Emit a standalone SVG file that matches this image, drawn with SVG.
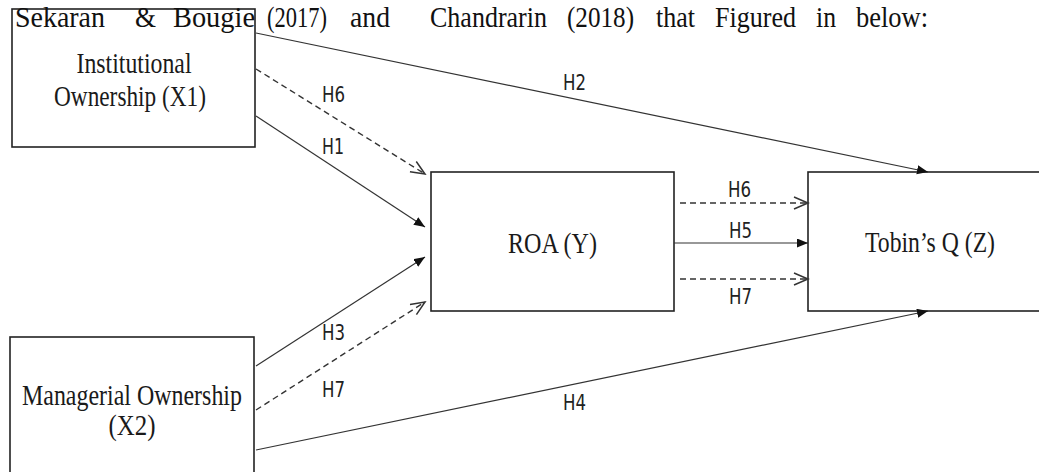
<svg xmlns="http://www.w3.org/2000/svg" width="1039" height="472" viewBox="0 0 1039 472">
<style>
.box{fill:#fff;stroke:#222;stroke-width:1.6}
.lbl{font-family:"Liberation Serif","Times New Roman",serif;font-size:29px;fill:#1a1a1a;text-anchor:middle}
.hd{font-family:"Liberation Serif","Times New Roman",serif;font-size:30px;fill:#111}
.h{font-family:"DejaVu Sans Condensed","DejaVu Sans","Liberation Sans",sans-serif;font-size:21px;fill:#222}
.ln{stroke:#333;stroke-width:1.2;fill:none}
.ds{stroke:#333;stroke-width:1.4;fill:none;stroke-dasharray:6 4}
</style>
<defs>
<marker id="fa" markerUnits="userSpaceOnUse" markerWidth="12" markerHeight="10" refX="11" refY="4.5" orient="auto">
<path d="M0,0 L11,4.5 L0,9 z" fill="#111"/>
</marker>
<marker id="oa" markerUnits="userSpaceOnUse" markerWidth="18" markerHeight="16" refX="15" refY="7" orient="auto">
<path d="M1,1 L15,7 L1,13" fill="none" stroke="#333" stroke-width="1.5"/>
</marker>
</defs>
<rect width="1039" height="472" fill="#fff"/>
<g id="x1">
<rect class="box" x="12" y="9" width="243" height="138"/>
<text class="lbl" x="134" y="73" textLength="115" lengthAdjust="spacingAndGlyphs">Institutional</text>
<text class="lbl" x="130" y="106" textLength="152" lengthAdjust="spacingAndGlyphs">Ownership (X1)</text>
</g>
<g id="x2">
<rect class="box" x="10" y="337" width="244" height="150"/>
<text class="lbl" x="132" y="405" textLength="220" lengthAdjust="spacingAndGlyphs">Managerial Ownership</text>
<text class="lbl" x="132" y="435" textLength="47" lengthAdjust="spacingAndGlyphs">(X2)</text>
</g>
<g id="roa">
<rect class="box" x="431" y="172" width="243" height="139"/>
<text class="lbl" x="552.5" y="253" textLength="89" lengthAdjust="spacingAndGlyphs">ROA (Y)</text>
</g>
<g id="tobin">
<rect class="box" x="808" y="172" width="240" height="139"/>
<text class="lbl" x="930" y="252" textLength="130" lengthAdjust="spacingAndGlyphs">Tobin’s Q (Z)</text>
</g>
<g id="heading">
<text class="hd" y="27"><tspan x="15" textLength="90" lengthAdjust="spacingAndGlyphs">Sekaran</tspan><tspan x="135" textLength="21" lengthAdjust="spacingAndGlyphs">&amp;</tspan><tspan x="173" textLength="82" lengthAdjust="spacingAndGlyphs">Bougie</tspan><tspan x="267" textLength="60" lengthAdjust="spacingAndGlyphs">(2017)</tspan><tspan x="350" textLength="40" lengthAdjust="spacingAndGlyphs">and</tspan><tspan x="430" textLength="117" lengthAdjust="spacingAndGlyphs">Chandrarin</tspan><tspan x="567" textLength="67" lengthAdjust="spacingAndGlyphs">(2018)</tspan><tspan x="656" textLength="39" lengthAdjust="spacingAndGlyphs">that</tspan><tspan x="715" textLength="81" lengthAdjust="spacingAndGlyphs">Figured</tspan><tspan x="816" textLength="20" lengthAdjust="spacingAndGlyphs">in</tspan><tspan x="856" textLength="72" lengthAdjust="spacingAndGlyphs">below:</tspan></text>
</g>
<g id="connectors">
<line class="ln" x1="256" y1="33" x2="928" y2="172" marker-end="url(#fa)"/>
<line class="ds" x1="256" y1="69" x2="425" y2="174" marker-end="url(#oa)"/>
<line class="ln" x1="256" y1="116" x2="425" y2="227" marker-end="url(#fa)"/>
<line class="ln" x1="256" y1="366" x2="425" y2="257" marker-end="url(#fa)"/>
<line class="ds" x1="256" y1="410" x2="425" y2="302" marker-end="url(#oa)"/>
<line class="ln" x1="256" y1="450" x2="928" y2="311" marker-end="url(#fa)"/>
<line class="ds" x1="680" y1="203" x2="808" y2="203" marker-end="url(#oa)"/>
<line class="ln" x1="674" y1="243" x2="808" y2="243" marker-end="url(#fa)"/>
<line class="ds" x1="680" y1="279" x2="808" y2="279" marker-end="url(#oa)"/>
<text class="h" x="322" y="102" textLength="23" lengthAdjust="spacingAndGlyphs">H6</text>
<text class="h" x="322" y="154" textLength="22" lengthAdjust="spacingAndGlyphs">H1</text>
<text class="h" x="563" y="90" textLength="23" lengthAdjust="spacingAndGlyphs">H2</text>
<text class="h" x="322" y="340" textLength="23" lengthAdjust="spacingAndGlyphs">H3</text>
<text class="h" x="322" y="397" textLength="23" lengthAdjust="spacingAndGlyphs">H7</text>
<text class="h" x="563" y="410" textLength="23" lengthAdjust="spacingAndGlyphs">H4</text>
<text class="h" x="728" y="197" textLength="23" lengthAdjust="spacingAndGlyphs">H6</text>
<text class="h" x="729" y="238" textLength="23" lengthAdjust="spacingAndGlyphs">H5</text>
<text class="h" x="729" y="304" textLength="23" lengthAdjust="spacingAndGlyphs">H7</text>
</g>
</svg>
